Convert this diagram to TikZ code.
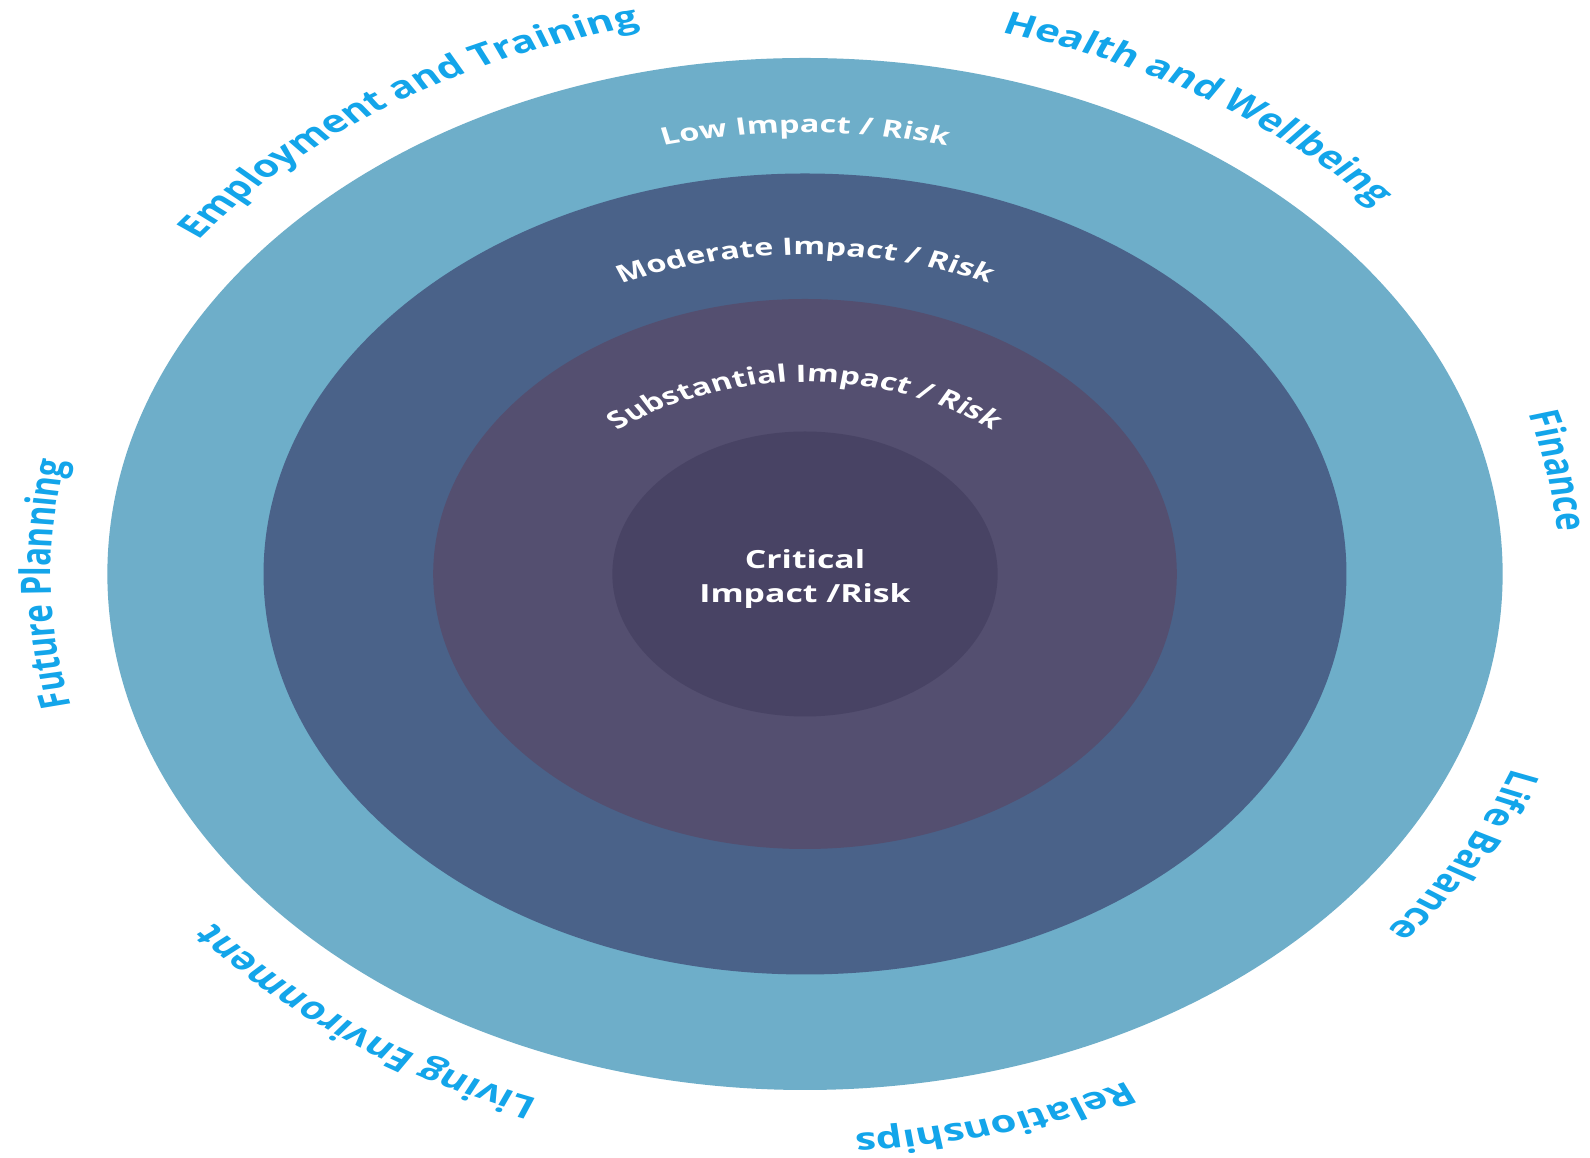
\documentclass[tikz,border=0pt]{standalone}
\usepackage{fontspec}
\setmainfont{Open Sans}
\usetikzlibrary{decorations.text}
\definecolor{ringA}{HTML}{6EAEC9}
\definecolor{ringB}{HTML}{4A6289}
\definecolor{ringC}{HTML}{544F70}
\definecolor{ringD}{HTML}{484364}
\definecolor{labelblue}{HTML}{13A5EA}
\begin{document}
\begin{tikzpicture}[x=1pt,y=1pt,
  disc/.style={circle, inner sep=0pt, draw=none},
  outerlabel/.style={decorate, decoration={text along path, text align=center, text color=labelblue,
      text={|\fontsize{31}{37}\selectfont\bfseries|#1}}},
  ringlabel/.style={decorate, decoration={text along path, text align=center, text color=white,
      text={|\fontsize{24}{29}\selectfont\bfseries|#1}}}
]
\path[use as bounding box, fill=white] (0,0) rectangle (1590,1158);
\begin{scope}[transform canvas={xshift=805pt, yshift=584pt, xscale=1.352}]
  % rings
  \node[disc, fill=ringA, minimum size=1032pt] (low) at (0,0) {};
  \node[disc, fill=ringB, minimum size=801pt] (moderate) at (0,0) {};
  \node[disc, fill=ringC, minimum size=550pt] (substantial) at (0,0) {};
  \node[disc, fill=ringD, minimum size=285pt] (critical) at (0,0) {};
  \node[text=white, align=center, inner sep=0pt, font=\fontsize{25}{34}\selectfont\bfseries] (crittext) at (0,-5) {Critical\\Impact /Risk};
  % ring labels
  \path[ringlabel={Low Impact / Risk}] (0,0) ++(150:441) arc[start angle=150, end angle=30, radius=441];
  \path[ringlabel={Moderate Impact / Risk}] (0,-22) ++(150:341) arc[start angle=150, end angle=30, radius=341];
  \path[ringlabel={Substantial Impact / Risk}] (0,-30) ++(150:222) arc[start angle=150, end angle=30, radius=222];
  % outer labels
  \path[outerlabel={Employment and Training}] (0,0) ++(173:558 and 561) arc[start angle=173, end angle=73, x radius=558, y radius=561];
  \path[outerlabel={Health and Wellbeing}] (0,0) ++(108:558 and 561) arc[start angle=108, end angle=8, x radius=558, y radius=561];
  \path[outerlabel={Finance}] (0,0) ++(60.5:558 and 561) arc[start angle=60.5, end angle=-39.5, x radius=558, y radius=561];
  \path[outerlabel={Life Balance}] (0,0) ++(20:558 and 561) arc[start angle=20, end angle=-80, x radius=558, y radius=561];
  \path[outerlabel={Relationships}] (0,0) ++(-25.5:558 and 561) arc[start angle=-25.5, end angle=-125.5, x radius=558, y radius=561];
  \path[outerlabel={Living Environment}] (0,0) ++(-76:558 and 561) arc[start angle=-76, end angle=-176, x radius=558, y radius=561];
  \path[outerlabel={Future Planning}] (0,0) ++(231:558 and 561) arc[start angle=231, end angle=131, x radius=558, y radius=561];
\end{scope}
\end{tikzpicture}
\end{document}
